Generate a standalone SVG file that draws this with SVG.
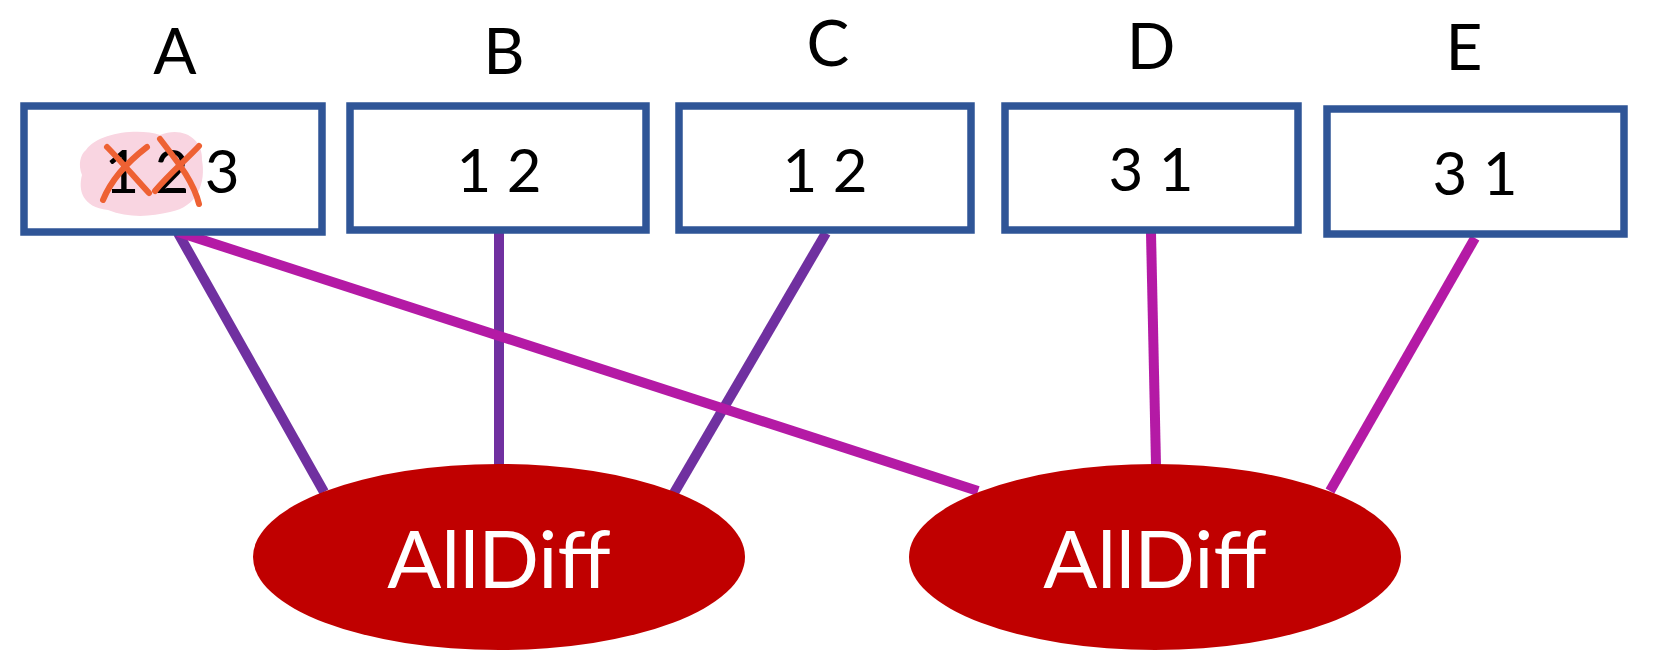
<svg xmlns="http://www.w3.org/2000/svg" width="1664" height="660" viewBox="0 0 1664 660">
<style>
.box{fill:#ffffff;stroke:#2F5597;stroke-width:7.5}
.lbl{font-family:Lato,"Open Sans","Liberation Sans",sans-serif;font-size:64px;fill:#000;text-anchor:middle}
.val{font-family:Lato,"Open Sans","Liberation Sans",sans-serif;font-size:60px;fill:#000;text-anchor:middle}
.ell{fill:#C00000}
.ad{font-family:Lato,"Open Sans","Liberation Sans",sans-serif;font-size:80px;fill:#fff;text-anchor:middle}
.p{stroke:#7030A0;stroke-width:10;fill:none}
.m{stroke:#B41AA5;stroke-width:10;fill:none}
.x{stroke:#EE6133;stroke-width:6;fill:none;stroke-linecap:round}
</style>
<rect width="1664" height="660" fill="#fff"/>
<g id="connectors">
<line class="p" x1="178" y1="233" x2="324" y2="492"/>
<line class="p" x1="499" y1="233" x2="499" y2="465"/>
<line class="p" x1="826" y1="233" x2="674" y2="493"/>
<line class="m" x1="178" y1="232" x2="978" y2="491"/>
<line class="m" x1="1151" y1="233" x2="1156" y2="465"/>
<line class="m" x1="1475" y1="238" x2="1330" y2="491"/>
</g>
<g id="label-A"><text class="lbl" x="175" y="74">A</text></g>
<g id="label-B"><text class="lbl" x="504" y="74">B</text></g>
<g id="label-C"><text class="lbl" x="828" y="66">C</text></g>
<g id="label-D"><text class="lbl" x="1151" y="69">D</text></g>
<g id="label-E"><text class="lbl" x="1464" y="70">E</text></g>
<g id="node-A">
<rect class="box" x="24" y="106" width="298" height="126"/>
<path d="M86,150 C98,132 140,128 160,135 C182,126 203,138 202,160 C206,182 198,207 170,212 C150,217 128,218 108,210 C82,207 78,190 82,175 C78,165 80,155 86,150 Z" fill="#F9D5E1"/>
<text class="val" x="172" y="193">1 2 3</text>
<path class="x" d="M107,147 C120,160 135,178 149,193"/>
<path class="x" d="M147,147 C130,160 112,178 103,200"/>
<path class="x" d="M160,139 C176,160 193,180 199,204"/>
<path class="x" d="M199,146 C186,160 168,175 155,191"/>
</g>
<g id="node-B"><rect class="box" x="350" y="106" width="296" height="124"/><text class="val" x="499" y="192">1 2</text></g>
<g id="node-C"><rect class="box" x="679" y="106" width="292" height="124"/><text class="val" x="825" y="192">1 2</text></g>
<g id="node-D"><rect class="box" x="1005" y="106" width="293" height="124"/><text class="val" x="1151" y="191">3 1</text></g>
<g id="node-E"><rect class="box" x="1327" y="109" width="297" height="125"/><text class="val" x="1475" y="195">3 1</text></g>
<g id="alldiff-1"><ellipse class="ell" cx="499" cy="557" rx="246" ry="93"/><text class="ad" x="499" y="588">AllDiff</text></g>
<g id="alldiff-2"><ellipse class="ell" cx="1155" cy="557" rx="246" ry="93"/><text class="ad" x="1155" y="588">AllDiff</text></g>
</svg>
